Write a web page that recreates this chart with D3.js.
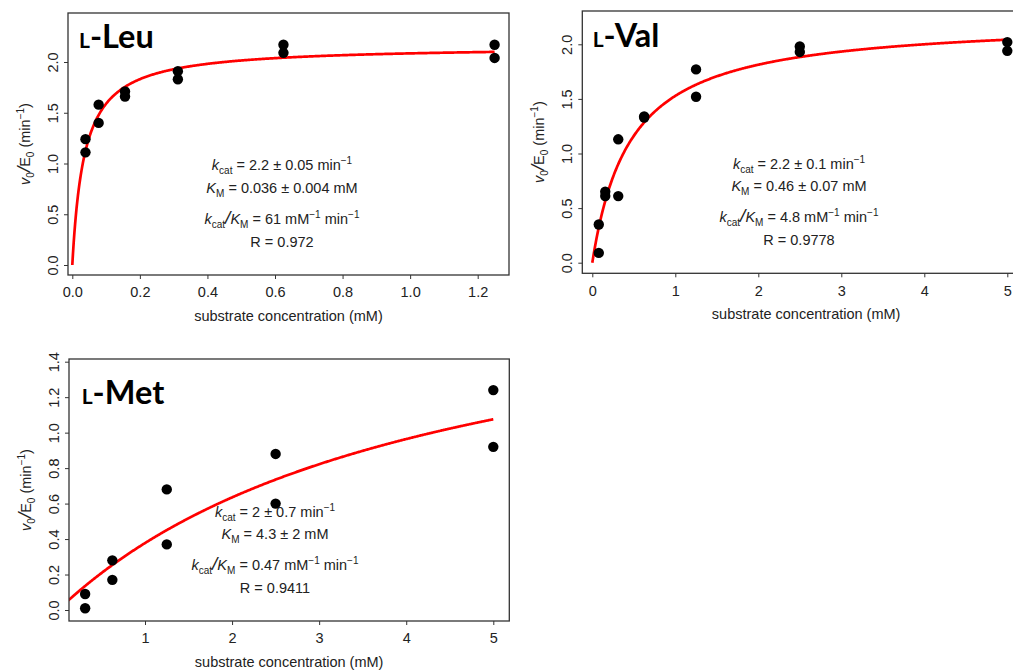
<!DOCTYPE html>
<html>
<head>
<meta charset="utf-8">
<script src="https://cdn.jsdelivr.net/npm/d3@7"></script>
<style>
  body { margin: 0; background: #fff; }
  text { font-family: "Liberation Sans", Arial, sans-serif; }
</style>
</head>
<body>
<svg id="chart" width="1013" height="670"></svg>
<script>
// substrate concentration (mM) and v0/E0 (min^-1), two replicates per concentration
const leuConc = [0.039, 0.039, 0.078, 0.078, 0.156, 0.156, 0.3125, 0.3125, 0.625, 0.625, 1.25, 1.25];
const leuRate = [1.24, 1.11, 1.58, 1.40, 1.71, 1.66, 1.91, 1.83, 2.17, 2.09, 2.17, 2.04];

const valConc = [0.078, 0.078, 0.156, 0.156, 0.3125, 0.3125, 0.625, 0.625, 1.25, 1.25, 2.5, 2.5, 5, 5];
const valRate = [0.35, 0.09, 0.65, 0.61, 1.13, 0.61, 1.34, 1.33, 1.77, 1.52, 1.98, 1.93, 2.02, 1.94];

const metConc = [0.3125, 0.3125, 0.625, 0.625, 1.25, 1.25, 2.5, 2.5, 5, 5];
const metRate = [0.09, 0.01, 0.28, 0.17, 0.68, 0.37, 0.88, 0.60, 1.24, 0.92];

// Michaelis-Menten fits: [kcat, KM]
const leuFit = [2.16, 0.036];
const valFit = [2.23, 0.46];
const metFit = [2.0, 4.3];

// tick labels
const leuXTicks = [0, 0.2, 0.4, 0.6, 0.8, 1.0, 1.2];
const leuYTicks = [0, 0.5, 1.0, 1.5, 2.0];
const valXTicks = [0, 1, 2, 3, 4, 5];
const valYTicks = [0, 0.5, 1.0, 1.5, 2.0];
const metXTicks = [1, 2, 3, 4, 5];
const metYTicks = [0, 0.2, 0.4, 0.6, 0.8, 1.0, 1.2, 1.4];

// annotation lines: [style, text] segments
const leuNotes = [
  [["i", "k"], ["sub", "cat"], ["n", " = 2.2 ± 0.05 min"], ["sup", "−1"]],
  [["i", "K"], ["sub", "M"], ["n", " = 0.036 ± 0.004 mM"]],
  [["i", "k"], ["sub", "cat"], ["big", "/"], ["i", "K"], ["sub", "M"], ["n", " = 61 mM"], ["sup", "−1"], ["n", " min"], ["sup", "−1"]],
  [["n", "R = 0.972"]]
];
const valNotes = [
  [["i", "k"], ["sub", "cat"], ["n", " = 2.2 ± 0.1 min"], ["sup", "−1"]],
  [["i", "K"], ["sub", "M"], ["n", " = 0.46 ± 0.07 mM"]],
  [["i", "k"], ["sub", "cat"], ["big", "/"], ["i", "K"], ["sub", "M"], ["n", " = 4.8 mM"], ["sup", "−1"], ["n", " min"], ["sup", "−1"]],
  [["n", "R = 0.9778"]]
];
const metNotes = [
  [["i", "k"], ["sub", "cat"], ["n", " = 2 ± 0.7 min"], ["sup", "−1"]],
  [["i", "K"], ["sub", "M"], ["n", " = 4.3 ± 2 mM"]],
  [["i", "k"], ["sub", "cat"], ["big", "/"], ["i", "K"], ["sub", "M"], ["n", " = 0.47 mM"], ["sup", "−1"], ["n", " min"], ["sup", "−1"]],
  [["n", "R = 0.9411"]]
];

const yLabel = [["i", "v"], ["sub", "0"], ["big", "/"], ["n", "E"], ["sub", "0"], ["n", " (min"], ["sup", "−1"], ["n", ")"]];
const xLabel = "substrate concentration (mM)";

const svg = d3.select("#chart");
svg.append("rect").attr("width", 1013).attr("height", 670).attr("fill", "#fff");

const textColor = "#222";
const fontSize = 14.5;

// writes a line made of plain / italic / sub / sup pieces
const richText = (sel, parts) => {
  let shift = 0;
  parts.forEach(([kind, str]) => {
    let target = 0;
    let size = fontSize;
    if (kind == "sub") { target = 4; size = 10; }
    if (kind == "sup") { target = -6; size = 10; }
    if (kind == "big") { size = 19; }
    sel.append("tspan")
      .attr("dy", target - shift)
      .attr("font-size", size)
      .attr("font-style", (kind == "i" || kind == "big") ? "italic" : "normal")
      .text(str);
    shift = target;
  });
};

const drawPanel = (p) => {
  const x = d3.scaleLinear().domain(p.xRef).range(p.xPix);
  const y = d3.scaleLinear().domain(p.yRef).range(p.yPix);
  const g = svg.append("g");

  svg.append("clipPath").attr("id", "clip-" + p.id)
    .append("rect")
    .attr("x", p.box[0]).attr("y", p.box[1])
    .attr("width", p.box[2] - p.box[0]).attr("height", p.box[3] - p.box[1]);

  // fitted curve
  const [kcat, km] = p.fit;
  const xs = d3.range(0, 601).map(i => p.curveTo * i / 600);
  g.append("path")
    .datum(xs)
    .attr("clip-path", `url(#clip-${p.id})`)
    .attr("fill", "none")
    .attr("stroke", "#ff0000")
    .attr("stroke-width", 2.7)
    .attr("d", d3.line().x(d => x(d)).y(d => y(kcat * d / (km + d))));

  // measured points
  g.append("g").selectAll("circle")
    .data(p.conc.map((c, i) => [c, p.rate[i]]))
    .join("circle")
    .attr("cx", d => x(d[0]))
    .attr("cy", d => y(d[1]))
    .attr("r", 5.2)
    .attr("fill", "#000");

  // box
  g.append("rect")
    .attr("x", p.box[0]).attr("y", p.box[1])
    .attr("width", p.box[2] - p.box[0]).attr("height", p.box[3] - p.box[1])
    .attr("fill", "none").attr("stroke", "#333").attr("stroke-width", 1.3);

  // axes
  const xAxis = g.append("g")
    .attr("transform", `translate(0,${p.box[3]})`)
    .call(d3.axisBottom(x).tickValues(p.xTicks).tickSize(4).tickPadding(8).tickFormat(d3.format(p.xFmt)));
  const yAxis = g.append("g")
    .attr("transform", `translate(${p.box[0]},0)`)
    .call(d3.axisLeft(y).tickValues(p.yTicks).tickSize(4).tickFormat(d3.format(".1f")));
  [xAxis, yAxis].forEach(a => {
    a.select(".domain").remove();
    a.selectAll(".tick line").attr("stroke", "#333");
    a.selectAll(".tick text")
      .attr("fill", textColor)
      .attr("font-size", fontSize)
      .attr("font-family", '"Liberation Sans", Arial, sans-serif');
  });
  yAxis.selectAll(".tick text")
    .attr("transform", "rotate(-90)")
    .attr("x", 0).attr("y", -10).attr("dy", 0)
    .attr("text-anchor", "middle");

  // axis titles
  g.append("text")
    .attr("x", (p.box[0] + Math.min(p.box[2], p.xPix[1] + 40)) / 2)
    .attr("y", p.box[3] + 46)
    .attr("text-anchor", "middle")
    .attr("fill", textColor)
    .attr("font-size", fontSize)
    .text(xLabel);
  const yl = g.append("text")
    .attr("transform", `translate(${p.box[0] - 38},${(p.box[1] + p.box[3]) / 2}) rotate(-90)`)
    .attr("text-anchor", "middle")
    .attr("fill", textColor)
    .attr("font-size", fontSize);
  richText(yl, yLabel);

  // amino acid name
  const t = g.append("text")
    .attr("x", p.title[0]).attr("y", p.title[1])
    .attr("fill", "#000")
    .attr("font-weight", 700)
    .style("font-family", "Lato, 'Open Sans', sans-serif");
  t.append("tspan").attr("font-size", 21).text("L");
  t.append("tspan").attr("font-size", 32.5).text("-" + p.name);

  // fit results
  p.notes.forEach((line, i) => {
    const tx = g.append("text")
      .attr("x", p.noteX).attr("y", p.noteY[i])
      .attr("text-anchor", "middle")
      .attr("fill", textColor)
      .attr("font-size", fontSize);
    richText(tx, line);
  });
};

const panels = [
  { id: "leu", name: "Leu", conc: leuConc, rate: leuRate, fit: leuFit, curveTo: 1.25,
    xRef: [0, 1.2], xPix: [72.3, 477.7], yRef: [0, 2], yPix: [265, 62],
    box: [68, 13, 509, 275], xTicks: leuXTicks, yTicks: leuYTicks, xFmt: ".1f",
    title: [79, 48], notes: leuNotes, noteX: 282, noteY: [170, 193, 224, 247] },
  { id: "val", name: "Val", conc: valConc, rate: valRate, fit: valFit, curveTo: 5,
    xRef: [0, 5], xPix: [592.3, 1007.3], yRef: [0, 2], yPix: [262.7, 44.3],
    box: [582.3, 11, 1030, 273.3], xTicks: valXTicks, yTicks: valYTicks, xFmt: "d",
    title: [592.7, 47], notes: valNotes, noteX: 799, noteY: [168.5, 191, 222, 245] },
  { id: "met", name: "Met", conc: metConc, rate: metRate, fit: metFit, curveTo: 5,
    xRef: [1, 5], xPix: [145, 493.3], yRef: [0, 1.4], yPix: [610, 361.7],
    box: [69, 359, 509.3, 621], xTicks: metXTicks, yTicks: metYTicks, xFmt: "d",
    title: [81.7, 404], notes: metNotes, noteX: 275, noteY: [517, 539, 570, 593] }
];

panels.forEach(drawPanel);
</script>
</body>
</html>
